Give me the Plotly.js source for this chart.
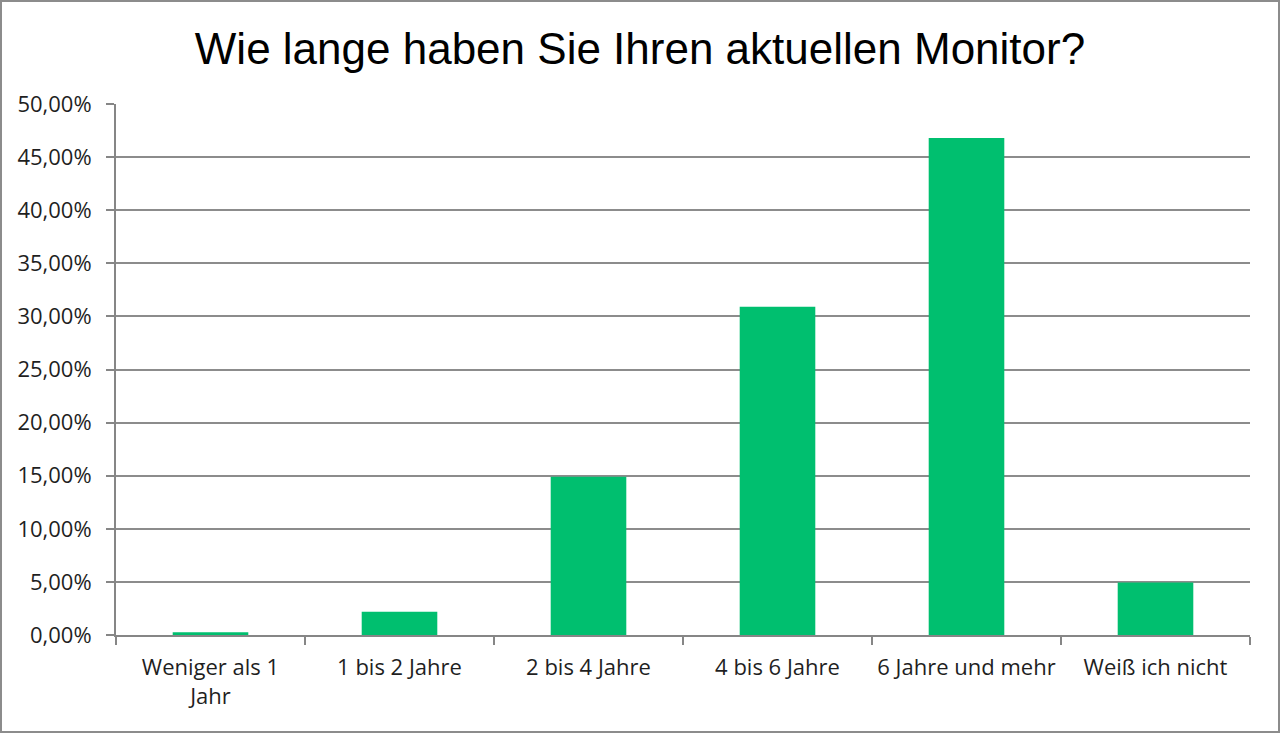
<!DOCTYPE html>
<html><head><meta charset="utf-8">
<script src="https://cdn.plot.ly/plotly-3.0.1.min.js"></script>
<style>
html,body{margin:0;padding:0;background:#fff;}
#wrap{width:1280px;height:733px;box-sizing:border-box;border:2px solid #8c8c8c;background:#fff;}
#chart{width:1276px;height:729px;}
</style></head>
<body><div id="wrap"><div id="chart"></div></div>
<script>
const categories = ["Weniger als 1<br>Jahr", "1 bis 2 Jahre", "2 bis 4 Jahre", "4 bis 6 Jahre", "6 Jahre und mehr", "Weiß ich nicht"];
const shares = [0.25, 2.2, 14.9, 30.9, 46.8, 4.95];
const yTickVals = [0, 5, 10, 15, 20, 25, 30, 35, 40, 45, 50];
const yTickText = ["0,00%", "5,00%", "10,00%", "15,00%", "20,00%", "25,00%", "30,00%", "35,00%", "40,00%", "45,00%", "50,00%"];
const titleText = "Wie lange haben Sie Ihren aktuellen Monitor?";

const trace = {
  type: "bar",
  x: categories,
  y: shares,
  marker: {color: "#00BF6F"},
  width: 0.4,
  hoverinfo: "none"
};
const tickFont = {family: "Open Sans, DejaVu Sans, sans-serif", size: 22, color: "#1f1f1f"};
const layout = {
  width: 1276, height: 729,
  margin: {l: 114, r: 28, t: 102, b: 96, pad: 0},
  paper_bgcolor: "#ffffff", plot_bgcolor: "#ffffff",
  showlegend: false,
  title: {text: titleText, font: {family: "Liberation Sans, Arial, sans-serif", size: 44, color: "#000"},
          x: 0.5, xref: "container", xanchor: "center", y: 0.936, yref: "container", yanchor: "middle"},
  xaxis: {
    type: "category", tickson: "boundaries", ticks: "outside", ticklen: 8, tickcolor: "#868686", tickwidth: 2,
    showline: true, linecolor: "#868686", linewidth: 2, showgrid: false,
    ticklabelstandoff: 12,
    tickfont: tickFont, fixedrange: true
  },
  yaxis: {
    range: [0, 50], tickvals: yTickVals, ticktext: yTickText,
    ticks: "outside", ticklen: 8, tickcolor: "#868686", tickwidth: 2,
    showline: true, linecolor: "#868686", linewidth: 2,
    showgrid: true, gridcolor: "#8c8c8c", gridwidth: 2, zeroline: false,
    ticklabelstandoff: 10,
    tickfont: tickFont, fixedrange: true
  }
};
Plotly.newPlot("chart", [trace], layout, {displayModeBar: false, staticPlot: true});
</script></body></html>
